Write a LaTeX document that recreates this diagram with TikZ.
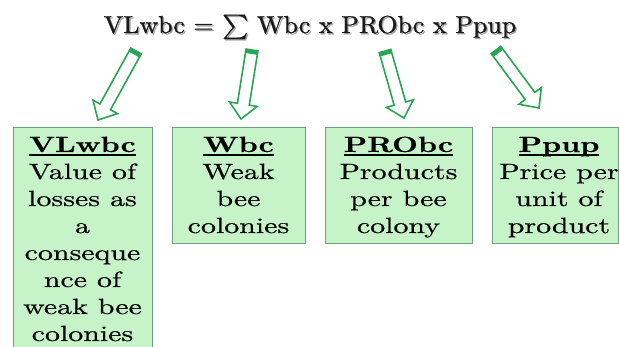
\documentclass[tikz,border=0pt]{standalone}
\usepackage{fontspec}
\usetikzlibrary{calc}

% Wide serif faces for the formula and the panels
\newfontfamily\boxfont{lmroman10-regular.otf}[FakeStretch=1.36, FakeBold=0.5, BoldFont=lmroman10-bold.otf, BoldFeatures={FakeBold=0.3}]
\newfontfamily\titlefont{lmroman10-regular.otf}[FakeStretch=1.06, FakeBold=0.9]
\newfontfamily\symfont{latinmodern-math.otf}[FakeBold=0.9]

\definecolor{panelfill}{RGB}{198,244,200}
\definecolor{panelline}{RGB}{110,160,125}
\definecolor{arrowgreen}{RGB}{40,165,85}

% bold heading with a heavy underline
\newcommand\ulhead[1]{\leavevmode\setbox0=\hbox{\bfseries #1}\rlap{\rule[-3.6pt]{\wd0}{1.7pt}}\box0}
% centred stack of lines whose first baseline is the node's base
\newcommand\panellines[1]{\parbox[t]{170pt}{\centering\boxfont\fontsize{22}{27}\selectfont #1}}

\def\shaft{6pt}
\def\head{14pt}
\def\headlen{15pt}
% hollow block arrow from tail coordinate #1 to tip coordinate #2
\newcommand\hollowarrow[2]{%
  \coordinate (#1-neck) at ($(#2)!\headlen!(#1)$);
  \coordinate (#1-bar) at ($(#1)!2pt!(#2)$);
  \draw[arrowline]
    ($(#1)!\shaft!90:(#2)$) -- ($(#1-neck)!\shaft!-90:(#1)$) --
    ($(#1-neck)!\head!-90:(#1)$) -- (#2) --
    ($(#1-neck)!\head!90:(#1)$) -- ($(#1-neck)!\shaft!90:(#1)$) --
    ($(#1)!\shaft!-90:(#2)$) -- cycle;
  \draw[arrowbar] ($(#1-bar)!\shaft!90:(#2)$) -- ($(#1-bar)!\shaft!-90:(#2)$);
}

\tikzset{
  panel/.style={draw=panelline, fill=panelfill, line width=0.9pt, anchor=north west, inner sep=0pt},
  panelhead/.style={anchor=base, inner sep=0pt},
  arrowline/.style={draw=arrowgreen, fill=white, line width=1.6pt, line join=miter},
  arrowbar/.style={draw=arrowgreen, line width=4pt, line cap=butt},
  formula/.style={anchor=base, inner sep=0pt, font=\titlefont\fontsize{24.5}{28}\selectfont},
}

\begin{document}
\begin{tikzpicture}[x=1pt, y=-1pt]
  \useasboundingbox (0,0) rectangle (619,347);
  \clip (0,0) rectangle (619,347);
  \fill[white] (0,0) rectangle (619,347);

  % formula with its soft drop shadow
  \node[formula, text=black!35] (formula-shadow) at (311.3,34.3)
    {VLwbc = {\symfont ∑} Wbc x PRObc x Ppup};
  \node[formula, text=black!90] (formula) at (310,33)
    {VLwbc = {\symfont ∑} Wbc x PRObc x Ppup};

  % panels
  \node[panel, minimum width=139pt, minimum height=235pt] (vl) at (13,127) {};
  \node[panel, minimum width=133pt, minimum height=116pt] (w) at (172,127) {};
  \node[panel, minimum width=147pt, minimum height=116pt] (pro) at (325,127) {};
  \node[panel, minimum width=126pt, minimum height=116pt] (pp) at (492,127) {};

  % panel texts
  \node[panelhead] (vl-text) at (82.5,152) {\panellines{\ulhead{VLwbc}\\Value of\\losses as\\a\\conseque\\nce of\\weak bee\\colonies}};
  \node[panelhead] (w-text) at (238.5,152) {\panellines{\ulhead{Wbc}\\Weak\\bee\\colonies}};
  \node[panelhead] (pro-text) at (398.5,152) {\panellines{\ulhead{PRObc}\\Products\\per bee\\colony}};
  \node[panelhead] (pp-text) at (559,152) {\panellines{\ulhead{Ppup}\\Price per\\unit of\\product}};

  % arrow ends
  \coordinate (a1) at (136,51);  \coordinate (a1-tip) at (98,120);
  \coordinate (a2) at (252,50);  \coordinate (a2-tip) at (241,119);
  \coordinate (a3) at (385,51);  \coordinate (a3-tip) at (404,118);
  \coordinate (a4) at (496,50);  \coordinate (a4-tip) at (539,108);

  \hollowarrow{a1}{a1-tip}
  \hollowarrow{a2}{a2-tip}
  \hollowarrow{a3}{a3-tip}
  \hollowarrow{a4}{a4-tip}
\end{tikzpicture}
\end{document}
